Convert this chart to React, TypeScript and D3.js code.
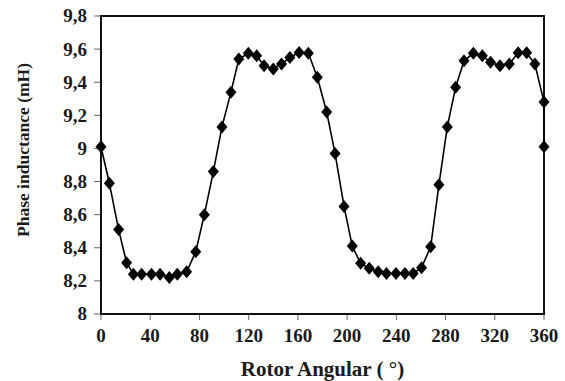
import React from "react";
import * as d3 from "d3";

// chart size and plot frame
const width = 565;
const height = 381;
const margin = { top: 16, right: 21, bottom: 67, left: 101 };

const angles = [
  0, 6.8, 14.3, 20.8, 26.3, 33, 41, 48, 55.5, 62, 69.6, 77, 84, 91.3, 98.3,
  105.6, 112, 119.7, 126.5, 132.5, 140, 146.7, 153.5, 161, 168.5, 175.8,
  183.4, 190.2, 197.5, 204.2, 211, 218, 225.3, 232, 239.7, 247, 253.7, 260.5,
  267.9, 274.6, 281.4, 288.2, 295, 302.6, 309.9, 316.6, 324.2, 331.8, 339,
  345.9, 352.6, 360, 360,
];
const inductance = [
  9.01, 8.79, 8.51, 8.31, 8.24, 8.24, 8.24, 8.24, 8.22, 8.24, 8.255, 8.376,
  8.6, 8.86, 9.13, 9.34, 9.54, 9.575, 9.56, 9.5, 9.48, 9.51, 9.55, 9.58,
  9.575, 9.43, 9.22, 8.97, 8.65, 8.41, 8.306, 8.276, 8.255, 8.245, 8.245,
  8.245, 8.245, 8.28, 8.406, 8.78, 9.13, 9.37, 9.53, 9.575, 9.56, 9.52, 9.5,
  9.51, 9.578, 9.578, 9.51, 9.28, 9.01,
];
const xTicks = [0, 40, 80, 120, 160, 200, 240, 280, 320, 360];
const yTicks = [8, 8.2, 8.4, 8.6, 8.8, 9, 9.2, 9.4, 9.6, 9.8];

const serif = { fontFamily: '"Liberation Serif", "Times New Roman", serif' };
const ink = "#1a1a1a";

const App = () => {
  const x = d3
    .scaleLinear()
    .domain([0, 360])
    .range([margin.left, width - margin.right]);
  const y = d3
    .scaleLinear()
    .domain([8, 9.8])
    .range([height - margin.bottom, margin.top]);

  const points = angles.map((a, i) => [a, inductance[i]] as [number, number]);
  const line = d3
    .line<[number, number]>()
    .x((d) => x(d[0]))
    .y((d) => y(d[1]));

  const fmt = (v: number) => (Number.isInteger(v) ? `${v}` : v.toFixed(1).replace(".", ","));
  const x0 = margin.left;
  const x1 = width - margin.right;
  const y0 = height - margin.bottom;
  const y1 = margin.top;

  return (
    <svg
      width={width}
      height={height}
      style={{ position: "absolute", left: 0, top: 0, background: "#fff" }}
    >
      {/* y ticks */}
      {yTicks.map((t) => (
        <g key={"y" + t}>
          <line x1={x0 - 7} x2={x0} y1={y(t)} y2={y(t)} stroke="#666" strokeWidth={1} />
          <text
            x={x0 - 14}
            y={y(t)}
            dy="0.34em"
            textAnchor="end"
            style={serif}
            fontWeight="bold"
            fontSize={19}
            fill={ink}
          >
            {fmt(t)}
          </text>
        </g>
      ))}
      {/* x ticks */}
      {xTicks.map((t) => (
        <g key={"x" + t}>
          <line x1={x(t)} x2={x(t)} y1={y0} y2={y0 + 6} stroke="#666" strokeWidth={1} />
          <text
            x={x(t)}
            y={y0 + 28}
            textAnchor="middle"
            style={serif}
            fontWeight="bold"
            fontSize={19}
            fill={ink}
          >
            {t}
          </text>
        </g>
      ))}
      {/* plot frame */}
      <rect
        x={x0}
        y={y1}
        width={x1 - x0}
        height={y0 - y1}
        fill="none"
        stroke="#111"
        strokeWidth={2}
      />
      {/* series */}
      <path d={line(points) ?? ""} fill="none" stroke="#000" strokeWidth={1.6} />
      {points.map((d, i) => (
        <path
          key={i}
          transform={`translate(${x(d[0])},${y(d[1])})`}
          d="M0,-6.5L5.5,0L0,6.5L-5.5,0Z"
          fill="#000"
        />
      ))}
      {/* axis titles */}
      <text
        x={(x0 + x1) / 2}
        y={376}
        textAnchor="middle"
        style={serif}
        fontWeight="bold"
        fontSize={21}
        fill={ink}
      >
        Rotor Angular ( °)
      </text>
      <text
        transform={`translate(29,${150}) rotate(-90)`}
        textAnchor="middle"
        style={serif}
        fontWeight="bold"
        fontSize={17.5}
        fill={ink}
      >
        Phase inductance (mH)
      </text>
    </svg>
  );
};

export default App;
